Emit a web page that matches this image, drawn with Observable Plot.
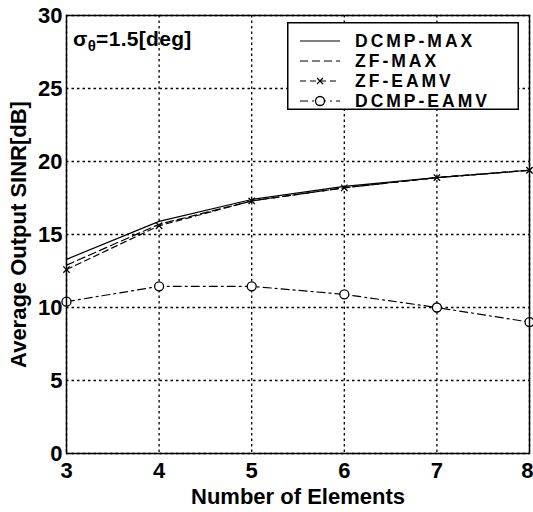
<!DOCTYPE html>
<html><head><meta charset="utf-8">
<script src="https://cdn.jsdelivr.net/npm/d3@7"></script>
<script src="https://cdn.jsdelivr.net/npm/@observablehq/plot@0.6"></script>
<style>
body{margin:0;background:#fff;}
#wrap{position:relative;width:533px;height:512px;font-family:"Liberation Sans",Arial,sans-serif;}
#legend{position:absolute;left:287px;top:22px;}
#sig{position:absolute;left:73px;top:27px;font-size:21px;font-weight:bold;letter-spacing:0.3px;}
</style></head><body>
<div id="wrap"><div id="chart"></div><div id="legend"></div><div id="sig">σ<sub style="font-size:15px">θ</sub>=1.5[deg]</div></div>
<script>
const elements = [3, 4, 5, 6, 7, 8];
const dcmpMax  = [13.3, 15.9, 17.4, 18.3, 18.9, 19.4];
const zfMax    = [12.9, 15.7, 17.3, 18.2, 18.9, 19.4];
const zfEamv   = [12.6, 15.6, 17.3, 18.2, 18.9, 19.4];
const dcmpEamv = [10.4, 11.45, 11.45, 10.9, 10.0, 9.0];
const seriesNames = ["DCMP-MAX", "ZF-MAX", "ZF-EAMV", "DCMP-EAMV"];
const xTicks = [3, 4, 5, 6, 7, 8];
const yTicks = [0, 5, 10, 15, 20, 25, 30];

const styles = {
  "DCMP-MAX": {dash: null, marker: null},
  "ZF-MAX": {dash: "8,4", marker: null},
  "ZF-EAMV": {dash: "6,4", marker: "times"},
  "DCMP-EAMV": {dash: "8,4,2,4", marker: "circle"}
};
const values = [dcmpMax, zfMax, zfEamv, dcmpEamv];
const rows = seriesNames.flatMap((s, i) => elements.map((x, j) => ({series: s, x, y: values[i][j]})));

const tickFont = {fontSize: 22, fontWeight: "bold"};
const marks = [
  Plot.gridX(xTicks, {stroke: "#000", strokeOpacity: 1, strokeDasharray: "2.5,3", strokeWidth: 1.3}),
  Plot.gridY(yTicks, {stroke: "#000", strokeOpacity: 1, strokeDasharray: "2.5,3", strokeWidth: 1.3}),
  Plot.axisX(xTicks.slice(0, -1), {tickSize: 0, tickPadding: 9, ...tickFont, label: null}),
  Plot.axisX(xTicks.slice(-1), {tickSize: 0, tickPadding: 9, ...tickFont, textAnchor: "end", dx: 4, label: "Number of Elements", labelAnchor: "center", labelOffset: 50, labelArrow: "none"}),
  Plot.axisY(yTicks, {tickSize: 0, tickPadding: 4, ...tickFont, label: "Average Output SINR[dB]", labelAnchor: "center", labelOffset: 56, labelArrow: "none"})
];
for (const s of seriesNames) {
  const d = rows.filter(r => r.series === s);
  marks.push(Plot.line(d, {x: "x", y: "y", stroke: "#000", strokeWidth: 1.2, strokeDasharray: styles[s].dash}));
  if (styles[s].marker === "circle") marks.push(Plot.dot(d, {x: "x", y: "y", r: 4.5, stroke: "#000", fill: "#fff", strokeWidth: 1.3}));
  if (styles[s].marker === "times") marks.push(Plot.dot(d, {x: "x", y: "y", r: 3, symbol: "times", stroke: "#000", strokeWidth: 1.3}));
}
marks.push(Plot.frame({stroke: "#000", strokeWidth: 1.5}));

const chart = Plot.plot({
  width: 533, height: 512,
  marginLeft: 66, marginRight: 4, marginTop: 15, marginBottom: 59,
  style: {fontFamily: "Liberation Sans, Arial, sans-serif", fontSize: "22px", color: "#000", background: "#fff"},
  x: {domain: [3, 8]},
  y: {domain: [0, 30]},
  marks
});
document.getElementById("chart").appendChild(chart);

// legend
const lgW = 232, lgH = 88;
const lg = d3.select("#legend").append("svg").attr("width", lgW).attr("height", lgH);
lg.append("rect").attr("x", 0.75).attr("y", 0.75).attr("width", lgW - 1.5).attr("height", lgH - 1.5)
  .attr("fill", "#fff").attr("stroke", "#000").attr("stroke-width", 1.5);
seriesNames.forEach((s, i) => {
  const cy = 19 + i * 20;
  lg.append("line").attr("x1", 13).attr("x2", 53).attr("y1", cy).attr("y2", cy)
    .attr("stroke", "#000").attr("stroke-width", 1.2).attr("stroke-dasharray", styles[s].dash);
  if (styles[s].marker === "circle") lg.append("circle").attr("cx", 33).attr("cy", cy).attr("r", 4.5).attr("fill", "#fff").attr("stroke", "#000").attr("stroke-width", 1.3);
  if (styles[s].marker === "times") lg.append("path").attr("d", `M30,${cy-3}L36,${cy+3}M30,${cy+3}L36,${cy-3}`).attr("stroke", "#000").attr("stroke-width", 1.3);
  lg.append("text").attr("x", 68).attr("y", cy).attr("dy", "0.35em").attr("font-size", 17.5).attr("font-weight", "bold")
    .attr("letter-spacing", 3)
    .attr("font-family", "Liberation Sans, Arial, sans-serif").text(s);
});
</script>
</body></html>
